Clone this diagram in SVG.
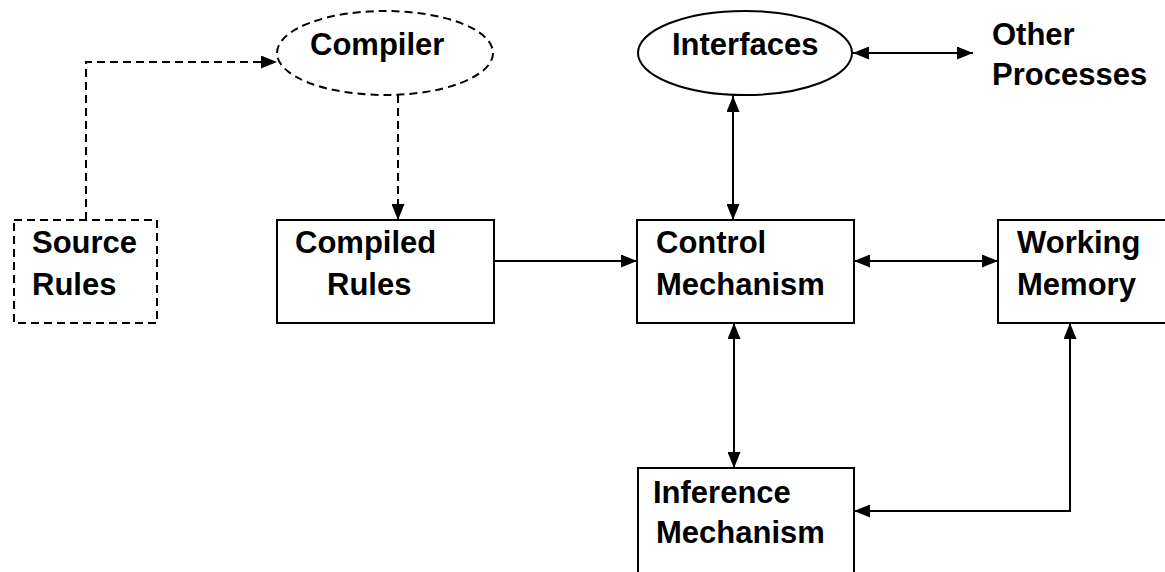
<svg xmlns="http://www.w3.org/2000/svg" width="1165" height="572" viewBox="0 0 1165 572">
  <style>
    .box { fill: #fff; stroke: #000; stroke-width: 2; }
    .dash { stroke-dasharray: 8 5; }
    .lbl { font-family: "Liberation Sans", Arial, sans-serif; font-weight: bold; font-size: 31px; fill: #000; }
    .wire { fill: none; stroke: #000; stroke-width: 2; }
  </style>
  <defs>
    <marker id="head" viewBox="0 0 16 13" refX="16" refY="6.5" markerWidth="16" markerHeight="13" markerUnits="userSpaceOnUse" orient="auto-start-reverse">
      <path d="M0,0 L16,6.5 L0,13 Z" fill="#000"/>
    </marker>
  </defs>
  <rect width="1165" height="572" fill="#fff"/>

  <g id="connectors">
    <!-- source rules feeding the compiler -->
    <path class="wire dash" d="M86,220 V62 H277" marker-end="url(#head)"/>
    <!-- compiler output -->
    <path class="wire dash" d="M398,95 V220" marker-end="url(#head)"/>
    <path class="wire" d="M494,261 H637" marker-end="url(#head)"/>
    <path class="wire" d="M733,96 V220" marker-start="url(#head)" marker-end="url(#head)"/>
    <path class="wire" d="M853,53 H973" marker-start="url(#head)" marker-end="url(#head)"/>
    <path class="wire" d="M854,261 H998" marker-start="url(#head)" marker-end="url(#head)"/>
    <path class="wire" d="M734,323 V468" marker-start="url(#head)" marker-end="url(#head)"/>
    <path class="wire" d="M1070,323 V511 H854" marker-start="url(#head)" marker-end="url(#head)"/>
  </g>

  <g id="source-rules">
    <rect class="box dash" x="14" y="220" width="143" height="103"/>
    <text class="lbl" x="32" y="253">Source</text>
    <text class="lbl" x="32" y="295">Rules</text>
  </g>

  <g id="compiler">
    <ellipse class="box dash" cx="385" cy="53" rx="108" ry="42"/>
    <text class="lbl" x="310" y="55">Compiler</text>
  </g>

  <g id="compiled-rules">
    <rect class="box" x="277" y="220" width="217" height="103"/>
    <text class="lbl" x="295" y="253">Compiled</text>
    <text class="lbl" x="327" y="295">Rules</text>
  </g>

  <g id="control-mechanism">
    <rect class="box" x="637" y="220" width="217" height="103"/>
    <text class="lbl" x="656" y="253">Control</text>
    <text class="lbl" x="656" y="295">Mechanism</text>
  </g>

  <g id="interfaces">
    <ellipse class="box" cx="745" cy="53" rx="107" ry="42"/>
    <text class="lbl" x="672" y="55">Interfaces</text>
  </g>

  <g id="other-processes">
    <text class="lbl" x="992" y="45">Other</text>
    <text class="lbl" x="992" y="85">Processes</text>
  </g>

  <g id="working-memory">
    <rect class="box" x="998" y="220" width="180" height="103"/>
    <text class="lbl" x="1017" y="253">Working</text>
    <text class="lbl" x="1017" y="295">Memory</text>
  </g>

  <g id="inference-mechanism">
    <rect class="box" x="638" y="468" width="216" height="120"/>
    <text class="lbl" x="653" y="503">Inference</text>
    <text class="lbl" x="656" y="543">Mechanism</text>
  </g>
</svg>
